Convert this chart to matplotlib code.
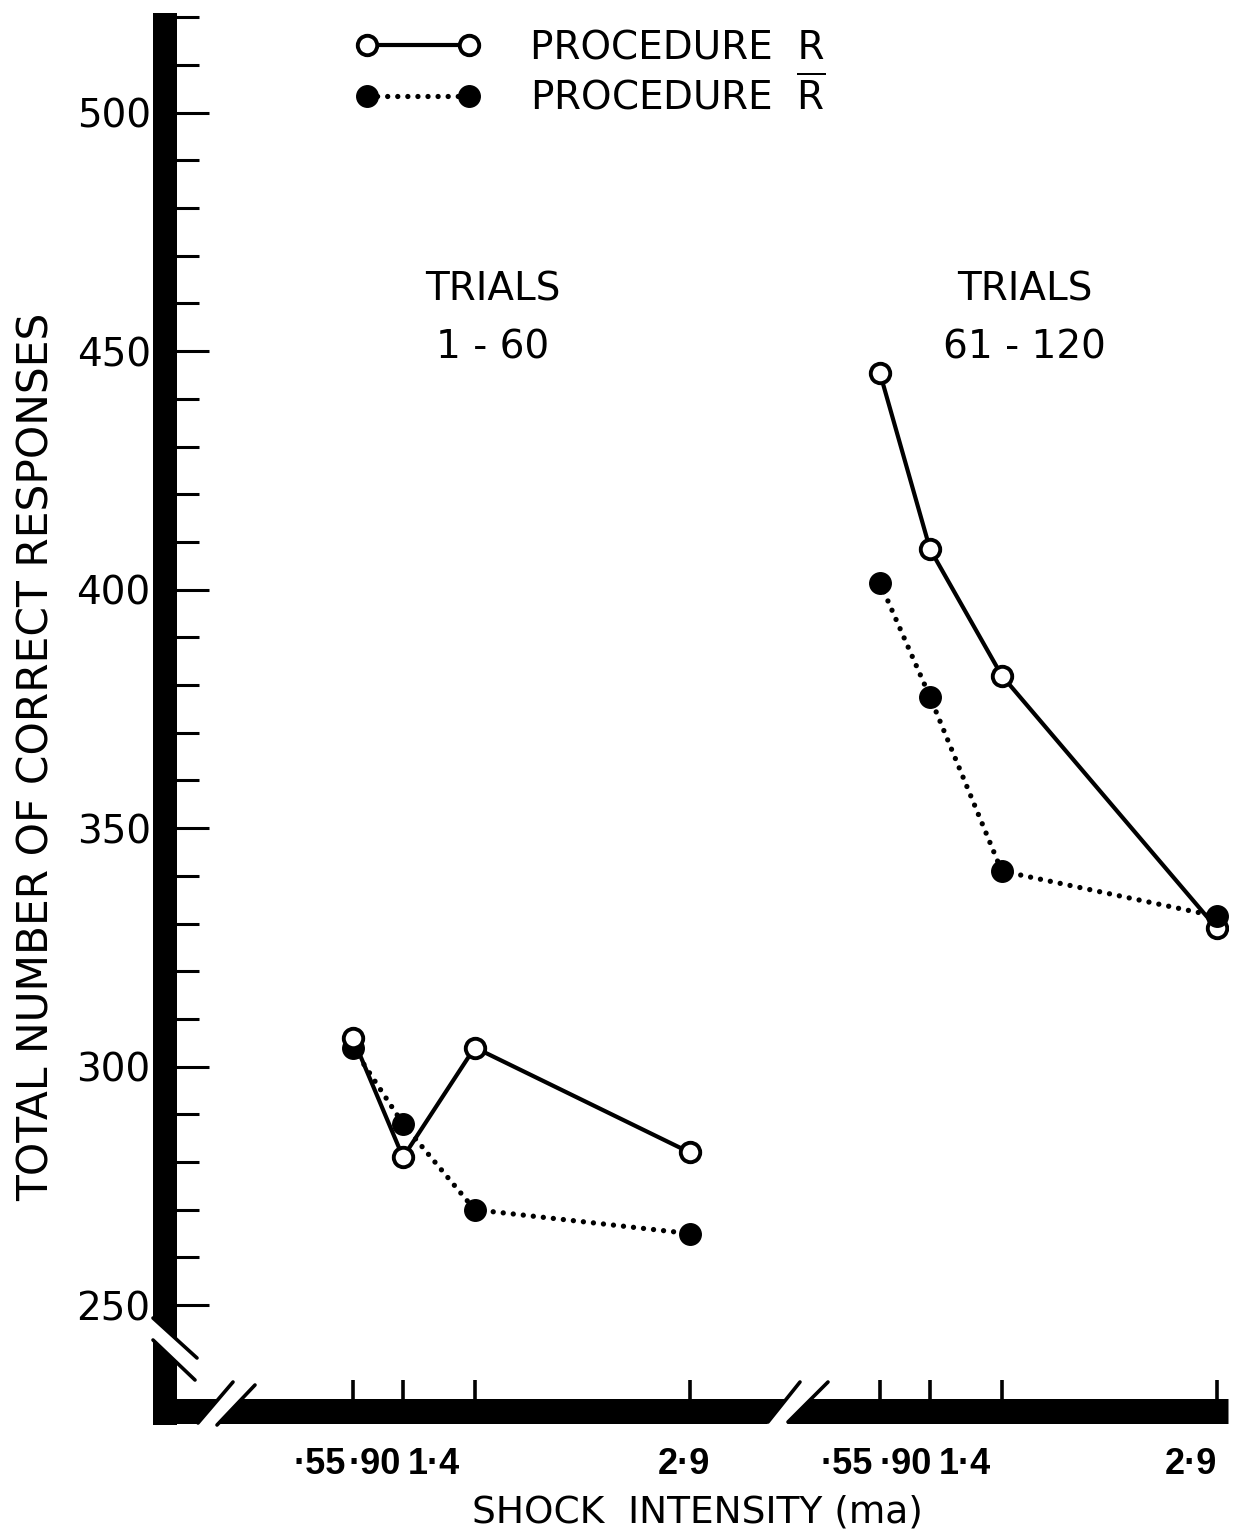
import numpy as np
import matplotlib
matplotlib.use("Agg")
import matplotlib.pyplot as plt
import matplotlib.transforms as mtransforms
from matplotlib.lines import Line2D
from matplotlib.patches import Polygon

# shock intensity (ma) and the two blocks of trials
intensity = [0.55, 0.90, 1.4, 2.9]
intensity_labels = ["·55", "·90", "1·4", "2·9"]
late_offset = 3.675  # horizontal shift of the trials 61-120 block

# total number of correct responses
r_early = [306, 281, 304, 282]
rbar_early = [304, 288, 270, 265]
r_late = [445.5, 408.5, 382, 329]
rbar_late = [401.5, 377.5, 341, 331.5]

major_y = [250, 300, 350, 400, 450, 500]
minor_y = [v for v in range(260, 521, 10) if v % 50 != 0]

# hand lettered tick labels sit a bit left of their ticks (pixels)
label_shift = [-33, -28, -41, -6, -33, -24, -37, -26]

W, H = 1236, 1534
FS = 28

plt.rcParams['font.family'] = ['DejaVu Sans']
plt.rcParams['mathtext.fontset'] = 'dejavusans'

fig = plt.figure(figsize=(W / 100, H / 100), dpi=100)
ax = fig.add_axes([166 / W, 1 - 1411 / H, (1228 - 166) / W, (1411 - 13) / H])
# pixel coordinates (origin top left) for the hand-drawn axis frame
pix = mtransforms.Affine2D().scale(1 / W, -1 / H).translate(0, 1) + fig.transFigure

x_early = np.array(intensity)
x_late = np.array(intensity) + late_offset

dotted = (0, (0.01, 1.9))
r_style = dict(color='k', lw=3.0, marker='o', ms=14, mfc='white', mec='k', mew=2.8)
rbar_style = dict(color='k', lw=3.8, ls=dotted, dash_capstyle='round',
                  marker='o', ms=15.5, mfc='k', mec='k')

h_rbar, = ax.plot(x_early, rbar_early, **rbar_style)
h_r, = ax.plot(x_early, r_early, **r_style)
ax.plot(x_late, r_late, **r_style)
ax.plot(x_late, rbar_late, **rbar_style)

ax.set_xlim(-0.753, 6.653)
ax.set_ylim(227.8, 520.9)

for s in ax.spines.values():
    s.set_visible(False)

ax.set_yticks(major_y)
ax.set_yticks(minor_y, minor=True)
ax.tick_params(axis='y', which='major', direction='in', length=31, width=2.2,
               labelsize=FS, pad=11)
ax.tick_params(axis='y', which='minor', direction='in', length=24, width=2.2)

ax.set_xticks(list(x_early) + list(x_late))
ax.set_xticklabels(intensity_labels * 2, fontfamily=['Liberation Sans', 'DejaVu Sans'],
                   fontweight='bold')
ax.tick_params(axis='x', direction='in', length=22, width=2.6, labelsize=26, pad=26)
for lab, dx in zip(ax.get_xticklabels(), label_shift):
    lab.set_transform(lab.get_transform()
                      + mtransforms.ScaledTranslation(dx / 100, 0, fig.dpi_scale_trans))

ax.set_xlabel("SHOCK  INTENSITY (ma)", fontsize=27, labelpad=9)
ax.set_ylabel("TOTAL NUMBER OF CORRECT RESPONSES", fontsize=30.5)
ax.yaxis.set_label_coords(-0.102, 0.468)

ax.text(1.527, 463.0, "TRIALS", fontsize=FS, ha='center', va='center')
ax.text(1.527, 450.8, "1 - 60", fontsize=FS, ha='center', va='center')
ax.text(5.235, 463.0, "TRIALS", fontsize=FS, ha='center', va='center')
ax.text(5.235, 450.8, "61 - 120", fontsize=FS, ha='center', va='center')

ax.legend([h_r, h_rbar], ["PROCEDURE  R", r"PROCEDURE  $\overline{\mathrm{R}}$"],
          loc='upper left', bbox_to_anchor=(0.178, 0.9885), frameon=False,
          numpoints=2, fontsize=FS, handlelength=3.24, handletextpad=1.26,
          labelspacing=0.2, borderpad=0, borderaxespad=0)

# thick axis frame with break marks
fig.add_artist(Line2D([165, 165], [13, 1425], transform=pix, lw=24 * 0.72,
                      color='k', solid_capstyle='butt'))
fig.add_artist(Line2D([153, 1228], [1411, 1411], transform=pix, lw=25 * 0.72,
                      color='k', solid_capstyle='butt'))

gaps = [
    [(150, 1315), (182, 1344), (182, 1368), (150, 1337)],
    [(195, 1427), (221, 1396), (244.6, 1396), (216, 1427)],
    [(764.8, 1427), (788.8, 1396), (814, 1396), (784, 1427)],
]
for g in gaps:
    fig.add_artist(Polygon(g, closed=True, transform=pix, fc='white', ec='none', zorder=3))

breaks = [
    ([153, 197], [1318, 1358]),
    ([153, 195], [1340, 1380]),
    ([198, 233], [1423, 1382]),
    ([217, 255], [1425, 1385]),
    ([768, 800], [1422, 1382]),
    ([788, 828], [1422, 1382]),
]
for bx, by in breaks:
    fig.add_artist(Line2D(bx, by, transform=pix, lw=2.6, color='k',
                          solid_capstyle='round', zorder=4))

fig.savefig("out.png", dpi=100, facecolor='white')
